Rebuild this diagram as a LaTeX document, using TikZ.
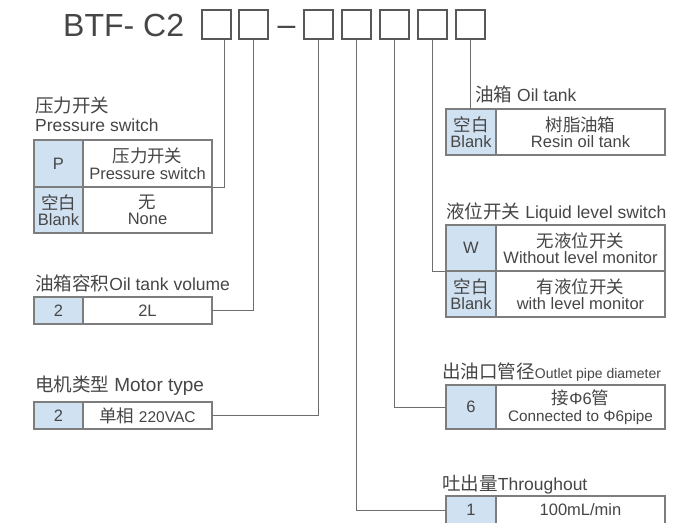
\documentclass[tikz,border=0pt]{standalone}
\usepackage{fontspec}
\setmainfont{Liberation Sans}
\newfontfamily\cjk[Scale=1.06]{Noto Sans CJK SC}
\newcommand{\zh}[1]{{\cjk #1}}
\usepackage{tikz}

\definecolor{codeblue}{RGB}{208,225,241}
\definecolor{linegray}{RGB}{110,110,110}
\definecolor{txtgray}{RGB}{70,70,70}

\tikzset{
	hdbox/.style={draw=linegray!80!black, line width=1.5pt, minimum width=29pt, minimum height=29pt, inner sep=0pt},
	cell/.style={draw=linegray!90, line width=1.1pt, anchor=north west, inner sep=0pt, outer sep=0pt,
		align=center, text=txtgray, font=\fontsize{16.5}{16.5}\selectfont},
	codecell/.style={cell, fill=codeblue, minimum width=49pt},
	lab/.style={anchor=base west, inner sep=0pt, text=txtgray, font=\fontsize{17.5}{20}\selectfont},
	conn/.style={draw=linegray, line width=1pt},
}

\begin{document}
\begin{tikzpicture}[x=1pt,y=-1pt]
		
		% --- canvas ---
		\path[use as bounding box, fill=white] (0,0) rectangle (687,522);
		
		% --- model code ---
		\node[anchor=base west, inner sep=0pt, text=txtgray, font=\fontsize{32}{32}\selectfont] (model) at (63,36) {BTF- C2};
		\foreach \i/\x in {1/216.5,2/253.5,3/318.5,4/356.5,5/394.5,6/432.5,7/470.5}
			\node[hdbox] (b\i) at (\x,24.5) {};
		\node[anchor=base, inner sep=0pt, text=txtgray, font=\fontsize{32}{32}\selectfont] (dash) at (286.5,35) {--};
		
		% --- left side: pressure switch ---
		\node[lab] (pl1) at (35,112) {\zh{压力开关}};
		\node[lab] (pl2) at (35,131) {Pressure switch};
		\node[codecell, minimum height=47pt] (pc1) at (34,140) {P};
		\node[cell, minimum width=129pt, minimum height=47pt] (pd1) at (pc1.north east) {\zh{压力开关}\\Pressure switch};
		\node[codecell, minimum height=46pt] (pc2) at (pc1.south west) {\zh{空白}\\Blank};
		\node[cell, minimum width=129pt, minimum height=46pt] (pd2) at (pc2.north east) {\zh{无}\\None};
		
		% oil tank volume
		\node[lab] (vl) at (35,290) {\zh{油箱容积}Oil tank volume};
		\node[codecell, minimum height=27pt] (vc) at (34,297) {2};
		\node[cell, minimum width=129pt, minimum height=27pt] (vd) at (vc.north east) {2L};
		
		% motor type
		\node[lab] (ml) at (35,391) {\zh{电机类型} {\fontsize{19}{20}\selectfont Motor type}};
		\node[codecell, minimum height=27pt] (mc) at (34,402) {2};
		\node[cell, minimum width=129pt, minimum height=27pt] (md) at (mc.north east) {\zh{单相}\ {\fontsize{15.5}{16}\selectfont 220VAC}};
		
		% --- right side: oil tank ---
		\node[lab] (ol) at (475,101) {\zh{油箱} Oil tank};
		\node[codecell, minimum width=50pt, minimum height=46pt] (oc) at (446,109) {\zh{空白}\\Blank};
		\node[cell, minimum width=169pt, minimum height=46pt] (od) at (oc.north east) {\zh{树脂油箱}\\Resin oil tank};
		
		% liquid level switch
		\node[lab] (wl) at (446,218) {\zh{液位开关} Liquid level switch};
		\node[codecell, minimum width=50pt, minimum height=46pt] (wc1) at (446,225) {W};
		\node[cell, minimum width=169pt, minimum height=46pt] (wd1) at (wc1.north east) {\zh{无液位开关}\\Without level monitor};
		\node[codecell, minimum width=50pt, minimum height=46pt] (wc2) at (wc1.south west) {\zh{空白}\\Blank};
		\node[cell, minimum width=169pt, minimum height=46pt] (wd2) at (wc2.north east) {\zh{有液位开关}\\with level monitor};
		
		% outlet pipe diameter
		\node[lab] (dl) at (442,378) {\zh{出油口管径}{\fontsize{14}{16}\selectfont Outlet pipe diameter}};
		\node[codecell, minimum width=50pt, minimum height=44pt] (dc) at (446,385) {6};
		\node[cell, minimum width=169pt, minimum height=44pt] (dd) at (dc.north east) {\zh{接}Φ6\zh{管}\\{\fontsize{15.3}{16}\selectfont Connected to Φ6pipe}};
		
		% throughout
		\node[lab] (tl) at (442,490) {\zh{吐出量}Throughout};
		\node[codecell, minimum width=50pt, minimum height=28pt] (tc) at (446,496) {1};
		\node[cell, minimum width=169pt, minimum height=28pt] (td) at (tc.north east) {100mL/min};
		
		% --- leader lines ---
		\draw[conn] ([xshift=7.5pt]b1.south) |- (pd1.south east);
		\draw[conn] (b2.south) |- (vd.east);
		\draw[conn] (b3.south) |- (md.east);
		\draw[conn] (b4.south) |- (tc.west);
		\draw[conn] (b5.south) |- (dc.west);
		\draw[conn] (b6.south) |- (wc1.south west);
		\draw[conn] (b7.south) -- (oc.north -| b7.south);
		
	\end{tikzpicture}
\end{document}
